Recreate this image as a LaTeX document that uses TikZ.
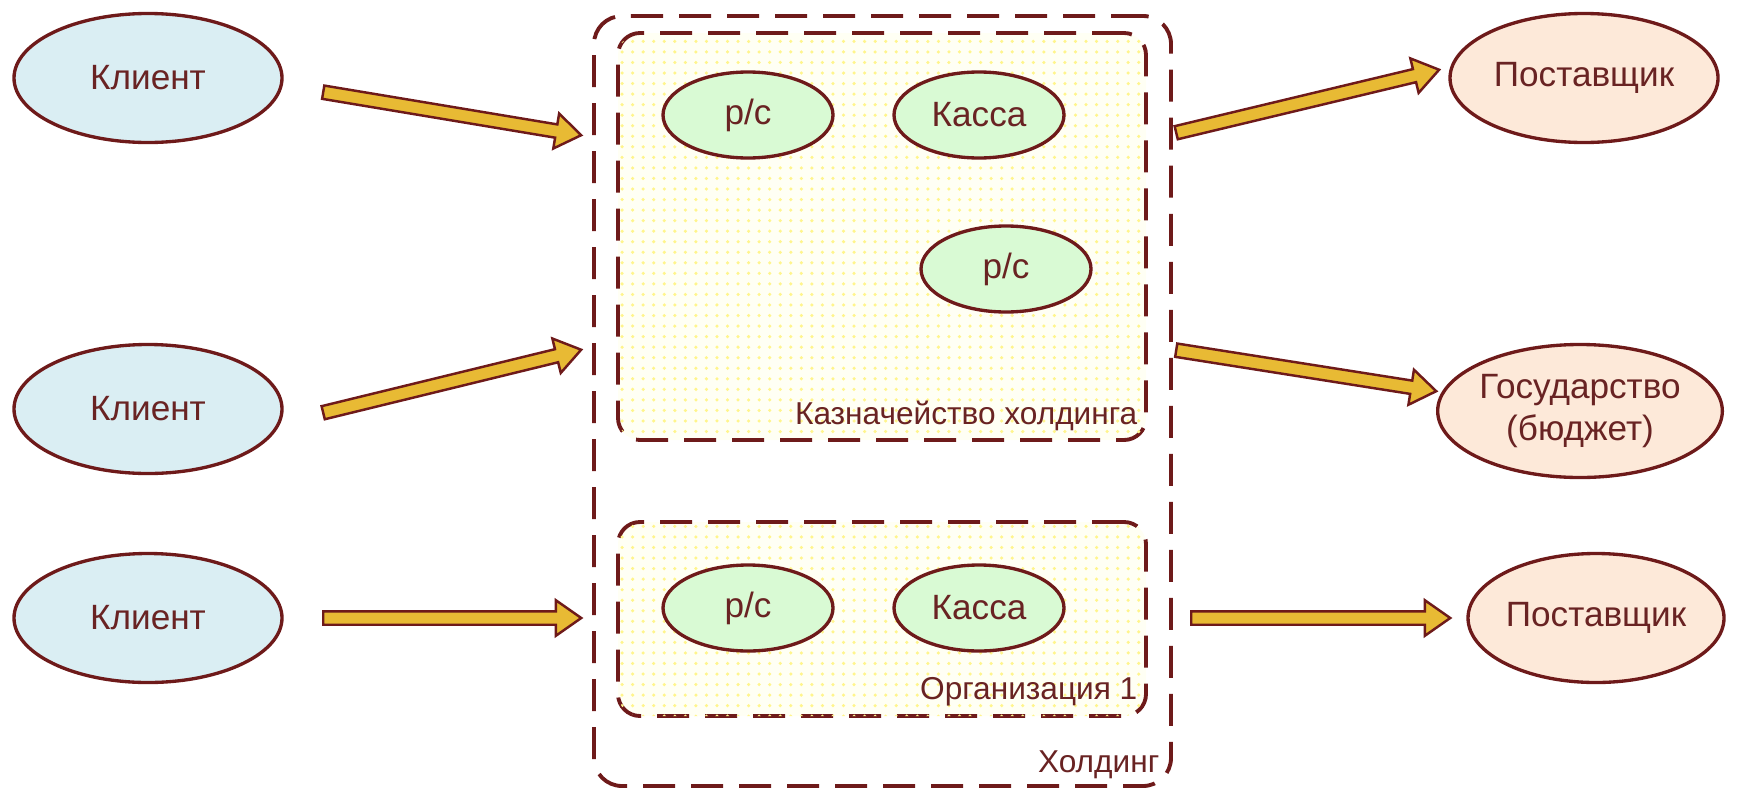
\documentclass[tikz,border=0pt]{standalone}
\usepackage{fontspec}
\setmainfont{Liberation Sans}
\usetikzlibrary{shapes.geometric,shapes.arrows,calc,patterns}

\definecolor{brd}{RGB}{110,26,26}
\definecolor{txt}{RGB}{105,35,35}
\definecolor{clfill}{RGB}{218,238,243}
\definecolor{supfill}{RGB}{253,233,217}
\definecolor{accfill}{RGB}{217,250,212}
\definecolor{grpfill}{RGB}{255,255,244}
\definecolor{dotcol}{RGB}{255,245,140}
\definecolor{arrfill}{RGB}{232,186,52}

\begin{document}
\begin{tikzpicture}[
    font=\fontsize{10pt}{12pt}\selectfont,
    client/.style={ellipse, draw=brd, line width=0.95pt, fill=clfill, text=txt,
                   minimum width=2.68cm, minimum height=1.29cm, inner sep=0pt},
    supplier/.style={client, fill=supfill},
    acct/.style={ellipse, draw=brd, line width=0.95pt, fill=accfill, text=txt,
                 minimum width=1.70cm, minimum height=0.86cm, inner sep=0pt},
    grp/.style={draw=brd, line width=1.1pt, dash pattern=on 0.32cm off 0.16cm,
                rounded corners=0.22cm, fill=grpfill,
                postaction={pattern=dots, pattern color=dotcol}, inner sep=0pt},
    grplabel/.style={text=txt, anchor=base east, inner sep=0pt,
                     font=\fontsize{9pt}{11pt}\selectfont},
    fatarrow/.style={to path={let \p1=($(\tikztotarget)-(\tikztostart)$),
                     \n1={atan2(\y1,\x1)}, \n2={veclen(\x1,\y1)} in
                     node[single arrow, draw=brd, fill=arrfill, line width=0.7pt,
                          inner xsep=0pt, inner ysep=0.055cm,
                          single arrow head extend=0.11cm, single arrow tip angle=70,
                          minimum height=\n2, rotate=\n1, anchor=tail]
                     at (\tikztostart) {} (\tikztotarget)}}
  ]
  \useasboundingbox (0,0) rectangle (17.41,7.90);

  % groups
  \node[draw=brd, line width=1.1pt, dash pattern=on 0.32cm off 0.16cm,
        rounded corners=0.28cm, minimum width=5.77cm, minimum height=7.70cm]
        (hold) at (8.825,3.89) {};
  \node[grp, minimum width=5.28cm, minimum height=4.07cm] (treas) at (8.82,5.535) {};
  \node[grp, minimum width=5.28cm, minimum height=1.94cm] (org)   at (8.82,1.71)  {};

  \node[grplabel] (treaslbl) at (11.38,3.66) {Казначейство холдинга};
  \node[grplabel] (orglbl)   at (11.38,0.91) {Организация 1};
  \node[grplabel] (holdlbl)  at (11.60,0.18) {Холдинг};

  % accounts
  \node[acct] (rs1)    at (7.48,6.75)  {р/с};
  \node[acct] (kassa1) at (9.79,6.75)  {Касса};
  \node[acct] (rs2)    at (10.06,5.21) {р/с};
  \node[acct] (rs3)    at (7.48,1.82)  {р/с};
  \node[acct] (kassa2) at (9.79,1.82)  {Касса};

  % clients and suppliers
  \node[client]   (cl1)  at (1.48,7.12)  {Клиент};
  \node[client]   (cl2)  at (1.48,3.81)  {Клиент};
  \node[client]   (cl3)  at (1.48,1.72)  {Клиент};
  \node[supplier] (sup1) at (15.84,7.12) {Поставщик};
  \node[supplier, minimum width=2.60cm, minimum height=1.33cm, align=center]
                  (gos)  at (15.80,3.79) {Государство\\(бюджет)};
  \node[supplier, minimum width=2.56cm] (sup2) at (15.96,1.72) {Поставщик};

  % arrow ends
  \coordinate (a1s) at (3.22,6.98);  \coordinate (a1e) at (5.80,6.55);
  \coordinate (a2s) at (3.22,3.77);  \coordinate (a2e) at (5.80,4.40);
  \coordinate (a3s) at (3.22,1.72);  \coordinate (a3e) at (5.80,1.72);
  \coordinate (a4s) at (11.75,6.57); \coordinate (a4e) at (14.38,7.20);
  \coordinate (a5s) at (11.75,4.40); \coordinate (a5e) at (14.35,3.99);
  \coordinate (a6s) at (11.90,1.72); \coordinate (a6e) at (14.49,1.72);

  \path (a1s) to[fatarrow] (a1e)
        (a2s) to[fatarrow] (a2e)
        (a3s) to[fatarrow] (a3e)
        (a4s) to[fatarrow] (a4e)
        (a5s) to[fatarrow] (a5e)
        (a6s) to[fatarrow] (a6e);
\end{tikzpicture}
\end{document}
